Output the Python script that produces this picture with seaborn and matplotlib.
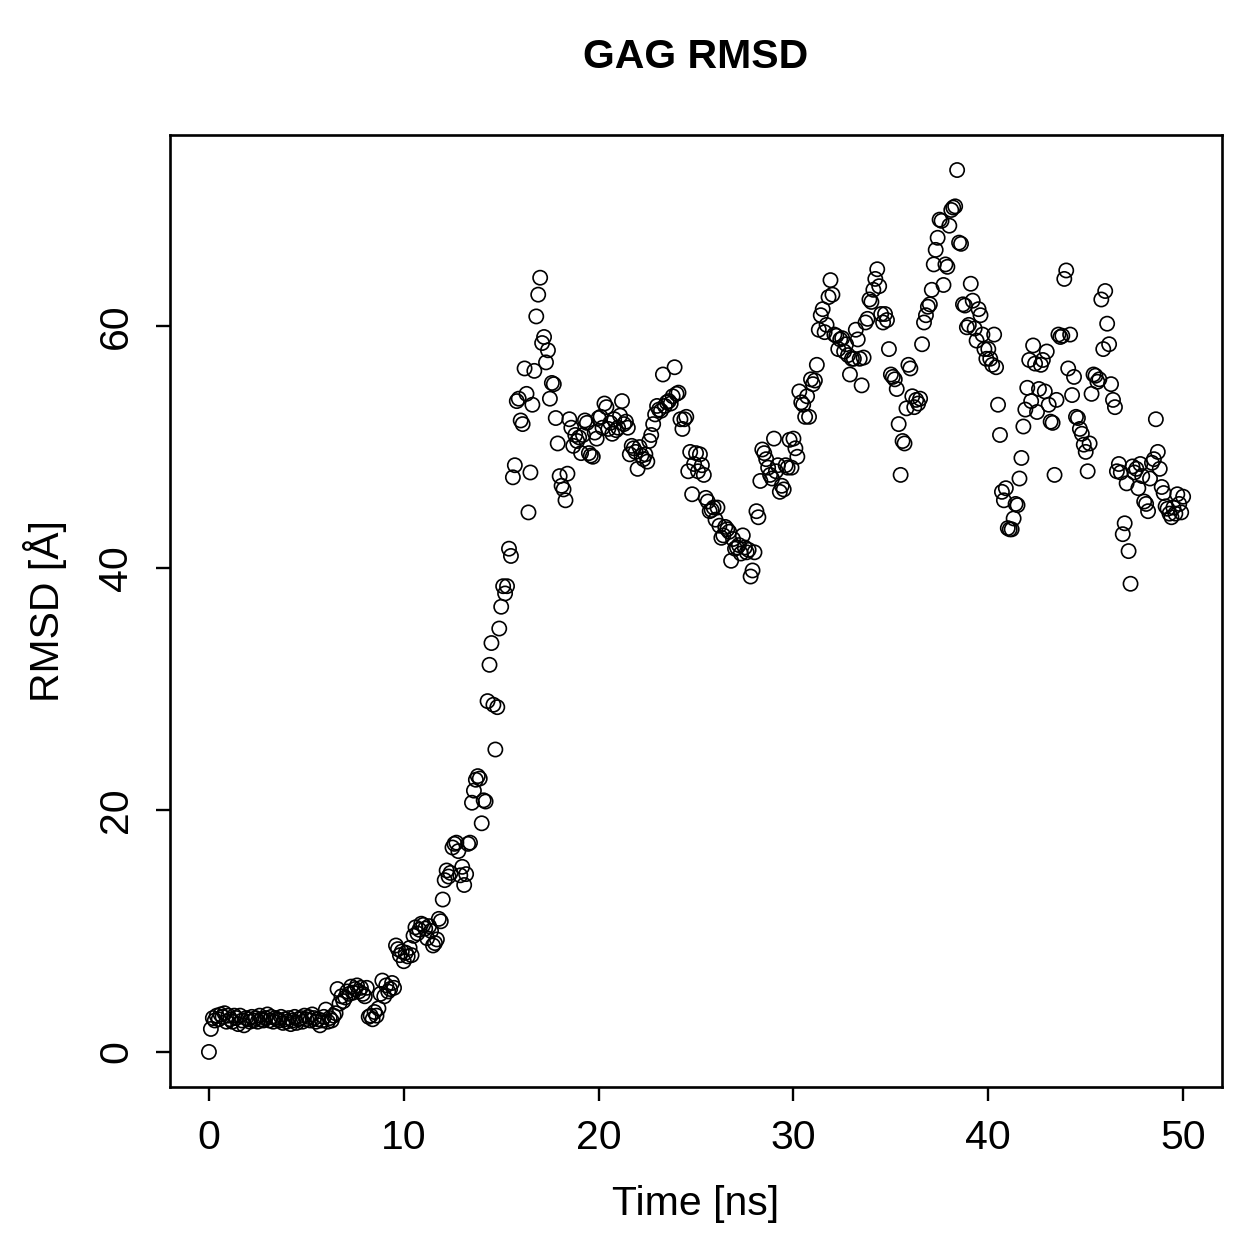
import numpy as np
import pandas as pd
import matplotlib
matplotlib.use("Agg")
import matplotlib.pyplot as plt
import seaborn as sns

# RMSD values (Å), one frame every 0.1 ns
rmsd_00_10 = [
    0.0, 1.9, 2.8, 2.6, 3.0, 2.7, 3.1, 2.9, 3.2, 2.5,
    3.0, 2.7, 2.5, 3.0, 2.8, 2.3, 3.0, 2.6, 2.2, 2.8,
    2.7, 2.5, 2.9, 2.6, 2.8, 2.5, 3.0, 2.7, 2.6, 2.8,
    3.1, 2.6, 2.9, 2.5, 2.8, 2.7, 2.6, 2.9, 2.4, 2.7,
    2.5, 2.8, 2.3, 2.6, 2.9, 2.4, 2.7, 2.8, 2.5, 3.0,
    2.7, 2.9, 2.6, 3.1, 2.8, 2.5, 2.7, 2.2, 2.6, 2.9,
    3.5, 2.5, 2.8, 2.6, 3.0, 3.2, 5.2, 4.0, 4.6, 4.2,
    4.5, 5.0, 4.8, 5.4, 4.9, 5.2, 5.5, 5.0, 5.3, 4.8,
    4.6, 5.3, 2.9, 3.0, 2.7, 3.3, 3.0, 3.6, 4.8, 5.9,
    4.6, 5.5, 5.0, 5.2, 5.7, 5.3, 8.8, 8.5, 8.0, 8.3,
]
rmsd_10_20 = [
    7.5, 8.2, 7.9, 8.6, 8.0, 9.6, 10.3, 9.8, 10.1, 10.6,
    10.5, 10.2, 9.4, 10.4, 10.0, 8.8, 9.0, 9.3, 11.0, 10.8,
    12.6, 14.2, 15.0, 14.5, 14.8, 16.9, 17.2, 17.3, 16.6, 14.6,
    15.3, 13.8, 14.7, 17.2, 17.3, 20.6, 21.6, 22.5, 22.8, 22.6,
    18.9, 20.8, 20.7, 29.0, 32.0, 33.8, 28.7, 25.0, 28.5, 35.0,
    36.8, 38.5, 37.9, 38.5, 41.6, 41.0, 47.5, 48.5, 53.8, 54.0,
    52.2, 51.9, 56.5, 54.4, 44.6, 47.9, 53.5, 56.3, 60.8, 62.6,
    64.0, 58.6, 59.1, 57.0, 58.0, 54.0, 55.3, 55.2, 52.4, 50.3,
    47.6, 46.8, 46.5, 45.6, 47.8, 52.3, 51.6, 50.1, 51.0, 50.5,
    50.8, 49.5, 51.0, 52.2, 52.0, 49.5, 49.3, 49.2, 51.2, 50.7,
]
rmsd_20_30 = [
    52.4, 52.5, 51.6, 53.6, 53.3, 51.5, 52.0, 51.1, 52.3, 51.4,
    51.6, 52.6, 53.8, 51.9, 52.1, 51.6, 49.4, 50.1, 49.9, 49.6,
    48.2, 50.0, 49.3, 49.0, 49.4, 48.8, 50.5, 51.0, 51.9, 52.7,
    53.4, 53.1, 53.0, 56.0, 53.4, 53.7, 53.8, 53.6, 54.2, 56.6,
    54.4, 54.5, 52.3, 51.5, 52.3, 52.5, 48.0, 49.6, 46.1, 48.6,
    49.5, 48.0, 49.4, 48.5, 47.7, 45.8, 45.5, 44.7, 44.8, 45.0,
    44.0, 45.0, 43.5, 42.5, 42.7, 43.4, 43.2, 43.0, 40.6, 42.4,
    41.6, 41.7, 41.9, 41.2, 42.7, 41.7, 41.3, 41.5, 39.3, 39.8,
    41.3, 44.7, 44.2, 47.2, 49.8, 49.5, 49.0, 48.3, 47.7, 47.4,
    50.7, 48.0, 48.5, 46.3, 46.8, 46.5, 48.5, 48.3, 50.6, 48.3,
]
rmsd_30_40 = [
    50.7, 49.9, 49.2, 54.6, 53.7, 53.5, 52.5, 54.2, 52.5, 55.6,
    55.2, 55.5, 56.8, 59.7, 60.9, 61.4, 59.5, 60.1, 62.4, 63.8,
    62.6, 59.3, 59.2, 58.1, 58.9, 59.0, 57.9, 58.5, 57.6, 56.0,
    57.3, 57.3, 59.7, 58.9, 57.3, 55.1, 57.4, 60.3, 60.6, 62.2,
    62.0, 63.0, 63.9, 64.7, 63.3, 61.0, 60.3, 61.0, 60.5, 58.1,
    56.0, 55.8, 55.6, 54.8, 51.9, 47.7, 50.5, 50.3, 53.2, 56.8,
    56.5, 54.2, 53.3, 53.9, 53.6, 54.0, 58.5, 60.3, 60.9, 61.6,
    61.8, 63.0, 65.1, 66.3, 67.3, 68.8, 68.7, 63.4, 65.1, 64.9,
    68.3, 69.6, 69.8, 69.9, 72.9, 66.9, 66.8, 61.8, 61.7, 59.9,
    60.1, 63.5, 62.1, 59.8, 58.8, 61.4, 60.9, 59.3, 58.1, 57.3,
]
rmsd_40_50 = [
    58.1, 57.3, 56.8, 59.3, 56.6, 53.5, 51.0, 46.3, 45.6, 46.6,
    43.3, 43.2, 43.2, 44.1, 45.3, 45.2, 47.4, 49.1, 51.7, 53.1,
    54.9, 57.2, 53.8, 58.4, 56.9, 52.9, 54.8, 56.8, 57.2, 54.6,
    57.9, 53.5, 52.1, 52.0, 47.7, 53.9, 59.3, 59.1, 59.2, 63.9,
    64.6, 56.5, 59.3, 54.3, 55.8, 52.5, 52.4, 51.5, 51.1, 50.2,
    49.6, 48.0, 50.3, 54.4, 56.0, 55.9, 55.4, 55.6, 62.2, 58.1,
    62.9, 60.2, 58.5, 55.2, 53.9, 53.3, 48.0, 48.6, 47.9, 42.8,
    43.7, 47.0, 41.4, 38.7, 48.4, 47.9, 48.2, 46.6, 48.6, 47.6,
    45.5, 45.3, 44.7, 47.4, 48.7, 49.0, 52.3, 49.6, 48.2, 46.7,
    46.2, 45.1, 44.9, 44.5, 44.2, 45.0, 44.5, 46.1, 45.3, 44.6,
    45.9,
]

rmsd = rmsd_00_10 + rmsd_10_20 + rmsd_20_30 + rmsd_30_40 + rmsd_40_50
time_ns = [round(0.1 * i, 1) for i in range(len(rmsd))]
x_ticks = [0, 10, 20, 30, 40, 50]
y_ticks = [0, 20, 40, 60]

df = pd.DataFrame({"Time": time_ns, "RMSD": rmsd})

sns.set_theme(style="ticks")
plt.rcParams["font.family"] = ["Liberation Sans", "DejaVu Sans"]
plt.rcParams["text.color"] = "black"
plt.rcParams["axes.labelcolor"] = "black"
plt.rcParams["xtick.color"] = "black"
plt.rcParams["ytick.color"] = "black"

fig = plt.figure(figsize=(12.59, 12.59), dpi=100)
ax = fig.add_axes([0.135, 0.1366, 0.8357, 0.7562])

sns.scatterplot(data=df, x="Time", y="RMSD", ax=ax, marker="o",
                facecolors="none", edgecolor="black", linewidth=1.2,
                s=105, legend=False)

ax.set_xlim(-2, 52)
ax.set_ylim(-2.9, 75.8)
ax.set_xticks(x_ticks)
ax.set_yticks(y_ticks)
ax.set_xticklabels([str(v) for v in x_ticks], fontsize=29.5)
ax.set_yticklabels([str(v) for v in y_ticks], fontsize=29.5, rotation=90, va="center")

for sp in ax.spines.values():
    sp.set_visible(True)
    sp.set_linewidth(1.9)
    sp.set_color("black")

ax.tick_params(axis="both", direction="out", length=10, width=1.7, colors="black")
ax.tick_params(axis="x", pad=13)
ax.tick_params(axis="y", pad=15)

ax.set_xlabel("Time [ns]", fontsize=29.5, labelpad=20)
ax.set_ylabel("RMSD [Å]", fontsize=29.5, labelpad=22)
ax.set_title("GAG RMSD", fontsize=29.5, fontweight="bold", pad=48, color="black")

fig.savefig("out.png", dpi=100, facecolor="white")
